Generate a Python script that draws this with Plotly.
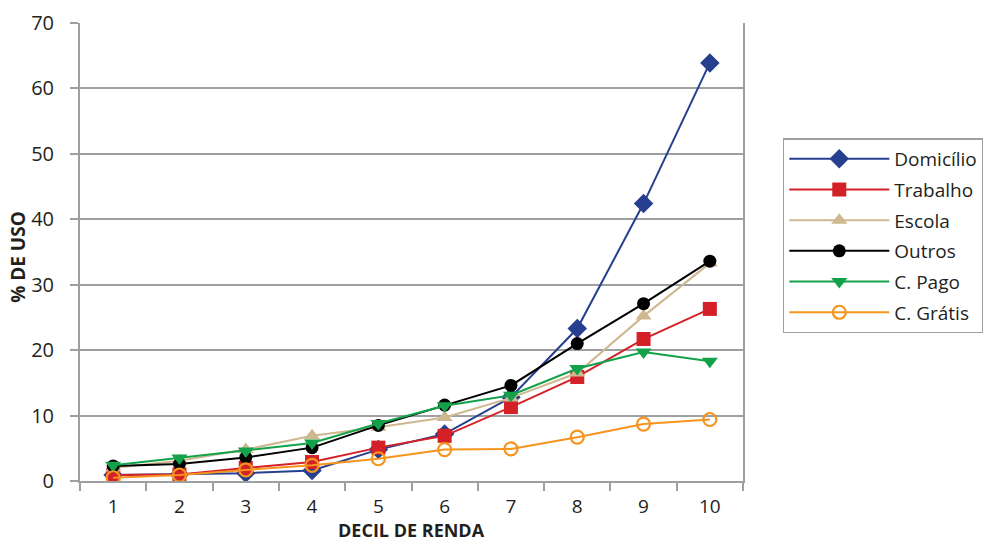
import plotly.graph_objects as go

deciles = ["1", "2", "3", "4", "5", "6", "7", "8", "9", "10"]

domicilio = [0.9, 1.0, 1.2, 1.6, 4.8, 7.2, 12.8, 23.3, 42.4, 63.9]
trabalho = [0.9, 1.0, 2.0, 2.9, 5.1, 6.9, 11.3, 15.9, 21.7, 26.3]
escola = [2.0, 3.1, 4.8, 6.9, 8.2, 9.7, 12.7, 16.5, 25.2, 33.3]
outros = [2.3, 2.6, 3.6, 5.1, 8.5, 11.6, 14.6, 21.0, 27.1, 33.6]
c_pago = [2.4, 3.5, 4.6, 5.8, 8.8, 11.5, 13.1, 17.2, 19.7, 18.3]
c_gratis = [0.5, 0.9, 1.7, 2.4, 3.4, 4.8, 4.9, 6.7, 8.7, 9.4]

x_title = "DECIL DE RENDA"
y_title = "% DE USO"

series = [
    ("Domicílio", domicilio, "#263F8E", dict(symbol="diamond", size=15)),
    ("Trabalho", trabalho, "#D42128", dict(symbol="square", size=14)),
    ("Escola", escola, "#CDB88F", dict(symbol="triangle-up", size=14)),
    ("Outros", outros, "#000000", dict(symbol="circle", size=13)),
    ("C. Pago", c_pago, "#13A24A", dict(symbol="triangle-down", size=14)),
    ("C. Grátis", c_gratis, "#F7941E", dict(symbol="circle-open", size=13, line=dict(width=2.2))),
]

fig = go.Figure()
for i, (name, vals, color, mk) in enumerate(series):
    fig.add_trace(go.Scatter(
        x=deciles, y=vals, name=name, mode="lines+markers",
        line=dict(color=color, width=2),
        marker=dict(color=color, **mk),
        legendgroup=f"g{i}",
    ))

font_family = "Open Sans, Noto Sans, sans-serif"
text_color = "#231F20"
grid_color = "#9D9FA2"

fig.update_layout(
    width=983, height=544,
    margin=dict(l=80, r=240, t=23, b=63, autoexpand=False),
    paper_bgcolor="white", plot_bgcolor="white",
    font=dict(family=font_family, color=text_color, size=19),
    showlegend=True,
    legend=dict(
        x=1.06, y=0.748, xanchor="left", yanchor="top",
        bordercolor=grid_color, borderwidth=1.5,
        font=dict(size=19, color=text_color),
        tracegroupgap=3, itemwidth=100,
    ),
    annotations=[
        dict(text=f"<b>{x_title}</b>", xref="paper", yref="paper",
             x=0.5, y=-0.1376, xanchor="center", yanchor="bottom",
             showarrow=False, font=dict(size=18, color=text_color)),
        dict(text=f"<b>{y_title}</b>", xref="paper", yref="paper",
             x=-0.0928, y=0.4904, xanchor="center", yanchor="middle",
             textangle=-90, showarrow=False, font=dict(size=19, color=text_color)),
    ],
)
fig.update_xaxes(
    type="category", range=[-0.5, 9.5], tickson="boundaries",
    ticks="outside", ticklen=8,
    tickcolor=grid_color, tickwidth=2,
    showline=True, linecolor=grid_color, linewidth=2,
    showgrid=False, ticklabelstandoff=7, automargin=False,
    tickfont=dict(size=19),
)
fig.update_yaxes(
    range=[0, 70], dtick=10, ticks="outside", ticklen=8,
    tickcolor=grid_color, tickwidth=2,
    showline=True, linecolor=grid_color, linewidth=2, mirror=True,
    showgrid=True, gridcolor=grid_color, gridwidth=2,
    zeroline=False, ticklabelstandoff=12, automargin=False,
    tickfont=dict(size=20),
)

fig.write_html(
    "out.html",
    config={"displayModeBar": False},
    post_script="document.body.style.margin='0';document.body.style.overflow='hidden';",
)
